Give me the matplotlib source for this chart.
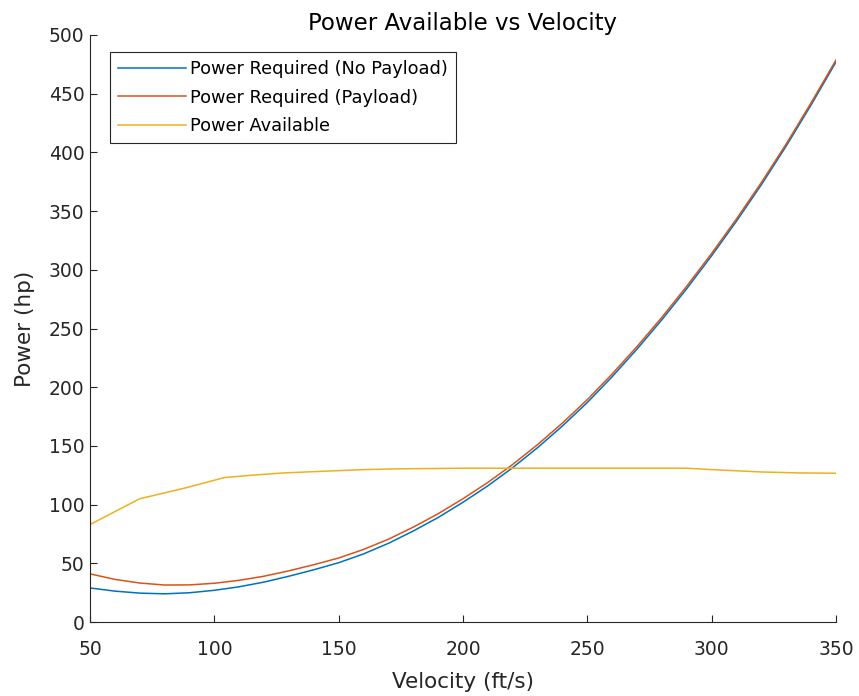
import numpy as np
import matplotlib
matplotlib.use("Agg")
import matplotlib.pyplot as plt

# velocity grid for the power-required curves (ft/s)
velocity = [50, 60, 70, 80, 90, 100, 110, 120, 130, 140, 150, 160, 170, 180, 190,
            200, 210, 220, 230, 240, 250, 260, 270, 280, 290, 300, 310, 320, 330, 340, 350]

# power required, hp
p_req_empty = [29.0, 26.3, 24.6, 24.0, 24.9, 27.0, 30.0, 34.0, 39.0, 44.5, 50.5, 58.0,
               67.0, 77.5, 89.0, 102.0, 116.0, 131.5, 148.5, 167.0, 187.0, 209.0, 232.5,
               257.5, 284.0, 312.0, 341.5, 372.5, 405.5, 440.5, 477.0]
p_req_payload = [41.0, 36.3, 33.2, 31.5, 31.6, 33.0, 35.5, 39.0, 43.6, 48.8, 54.5, 61.8,
                 70.5, 80.8, 92.2, 105.0, 118.9, 134.2, 151.1, 169.5, 189.4, 211.3, 234.7,
                 259.6, 286.1, 314.0, 343.4, 374.4, 407.3, 442.3, 478.7]

# power available, hp
v_avail = [50, 70, 88, 104, 115, 128, 145, 160, 175, 200, 250, 290, 300, 310, 320, 335, 350]
p_avail = [83.0, 105.0, 114.0, 123.0, 125.0, 127.0, 128.5, 129.8, 130.5, 131.0, 131.0,
           131.0, 129.8, 128.8, 127.8, 127.0, 126.7]

labels = ["Power Required (No Payload)", "Power Required (Payload)", "Power Available"]
colors = ["#0072BD", "#D95319", "#EDB120"]

plt.rcParams["font.family"] = ["DejaVu Sans"]

fig = plt.figure(figsize=(8.59, 6.96), dpi=100)
ax = fig.add_axes([90 / 859, 74 / 696, 746 / 859, 587 / 696])

ax.plot(velocity, p_req_empty, color=colors[0], lw=1.1, label=labels[0])
ax.plot(velocity, p_req_payload, color=colors[1], lw=1.1, label=labels[1])
ax.plot(v_avail, p_avail, color=colors[2], lw=1.1, label=labels[2])

ax.set_xlim(50, 350)
ax.set_ylim(0, 500)
ax.set_xticks(np.arange(50, 351, 50))
ax.set_yticks(np.arange(0, 501, 50))

ax.spines["top"].set_visible(False)
ax.spines["right"].set_visible(False)
for s in ["left", "bottom"]:
    ax.spines[s].set_color("#262626")
    ax.spines[s].set_linewidth(0.8)
ax.tick_params(direction="in", length=5, width=0.8, colors="#262626", labelsize=13.5)
ax.tick_params(axis="x", pad=13)
ax.tick_params(axis="y", pad=4)

ax.set_xlabel("Velocity (ft/s)", fontsize=15.5, color="#262626", labelpad=9)
ax.set_ylabel("Power (hp)", fontsize=15.5, color="#262626", labelpad=10)
ax.set_title("Power Available vs Velocity", fontsize=16.5, color="black", pad=0, y=1.008)

leg = ax.legend(loc="upper left", bbox_to_anchor=(0.027, 0.971), borderaxespad=0,
                fontsize=12.8, handlelength=3.8, handletextpad=0.25, borderpad=0.45,
                labelspacing=0.6, fancybox=False, framealpha=1)
leg.get_frame().set_edgecolor("#262626")
leg.get_frame().set_linewidth(0.8)

fig.savefig("out.png", dpi=100)
